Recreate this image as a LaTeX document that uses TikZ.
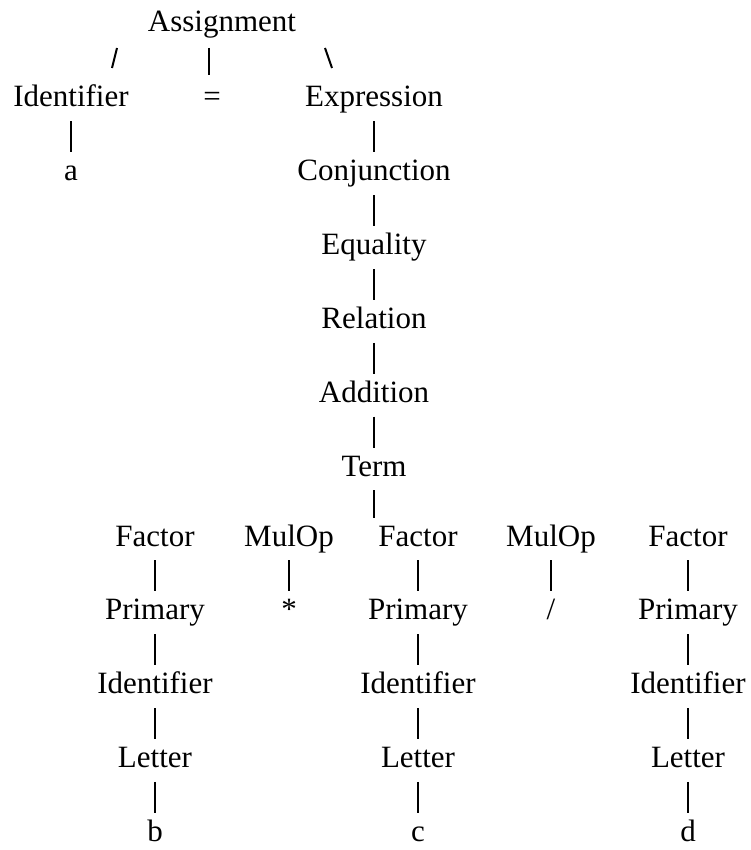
\documentclass[tikz,border=0pt]{standalone}
\usepackage{fontspec}
\setmainfont{Liberation Serif}
\usetikzlibrary{positioning}

\begin{document}
\begin{tikzpicture}[x=0.5pt, y=-0.5pt, node distance=22.5pt,
 word/.style={inner sep=0pt, text height=10.5pt, text depth=3.5pt, font=\fontsize{15.5}{18}\selectfont},
 edge/.style={line width=.6pt, shorten <=3.5pt, shorten >=3.5pt},
 stem/.style={line width=1pt}]
\useasboundingbox (0,0) rectangle (750,850);
% top of the tree
\node[word, anchor=base] (assign) at (222,32) {Assignment};
\node[word, anchor=base] (topid) at (71,107) {Identifier};
\node[word, anchor=base] (eq) at (212,107) {=};
\node[word, anchor=base] (expr) at (374,107) {Expression};
\node[word, below=of topid] (a) {a};
\coordinate (sl1) at (117,48); \coordinate (sl2) at (112,68);
\coordinate (mid1) at (209,48); \coordinate (mid2) at (209,75);
\coordinate (sr1) at (325,48); \coordinate (sr2) at (332,68);
\draw[stem] (sl1)--(sl2); \draw[stem] (mid1)--(mid2); \draw[stem] (sr1)--(sr2);
% spine
\node[word, below=of expr] (conj) {Conjunction};
\node[word, below=of conj] (equal) {Equality};
\node[word, below=of equal] (rel) {Relation};
\node[word, below=of rel] (add) {Addition};
\node[word, below=of add] (term) {Term};
% factors and operators
\node[word, anchor=base] (fac1) at (155,546) {Factor};
\node[word, anchor=base] (mul1) at (289,546) {MulOp};
\node[word, anchor=base] (fac2) at (418,546) {Factor};
\node[word, anchor=base] (mul2) at (551,546) {MulOp};
\node[word, anchor=base] (fac3) at (688,546) {Factor};
\coordinate (split) at (term |- fac2.north);
\node[word, below=of fac1] (pri1) {Primary};
\node[word, below=of pri1] (id1) {Identifier};
\node[word, below=of id1] (let1) {Letter};
\node[word, below=of let1] (b) {b};
\node[word, below=of mul1] (star) {*};
\node[word, below=of fac2] (pri2) {Primary};
\node[word, below=of pri2] (id2) {Identifier};
\node[word, below=of id2] (let2) {Letter};
\node[word, below=of let2] (c) {c};
\node[word, below=of mul2] (slash) {/};
\node[word, below=of fac3] (pri3) {Primary};
\node[word, below=of pri3] (id3) {Identifier};
\node[word, below=of id3] (let3) {Letter};
\node[word, below=of let3] (d) {d};
\draw[edge] (topid)--(a);
\draw[edge] (expr)--(conj); \draw[edge] (conj)--(equal); \draw[edge] (equal)--(rel);
\draw[edge] (rel)--(add); \draw[edge] (add)--(term); \draw[edge] (term)--(split);
\draw[edge] (fac1)--(pri1); \draw[edge] (pri1)--(id1); \draw[edge] (id1)--(let1); \draw[edge] (let1)--(b);
\draw[edge] (mul1)--(star);
\draw[edge] (fac2)--(pri2); \draw[edge] (pri2)--(id2); \draw[edge] (id2)--(let2); \draw[edge] (let2)--(c);
\draw[edge] (mul2)--(slash);
\draw[edge] (fac3)--(pri3); \draw[edge] (pri3)--(id3); \draw[edge] (id3)--(let3); \draw[edge] (let3)--(d);
\end{tikzpicture}
\end{document}
